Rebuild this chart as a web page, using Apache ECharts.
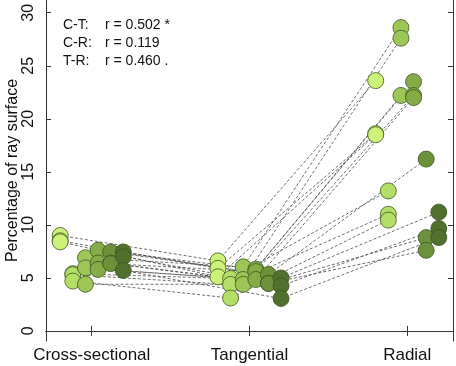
<!DOCTYPE html>
<html>
<head>
<meta charset="utf-8">
<script src="https://cdn.jsdelivr.net/npm/echarts@6/dist/echarts.min.js"></script>
<style>
  html, body { margin: 0; padding: 0; background: #fff; }
  #chart { width: 456px; height: 366px; }
</style>
</head>
<body>
<div id="chart"></div>
<script>
// categories on the x axis (positions 1, 2, 3)
const categories = ['Cross-sectional', 'Tangential', 'Radial'];
const yTicks = [0, 5, 10, 15, 20, 25, 30];

// six jitter columns, each with its own shade of green
const groupOffsets = [-0.2, -0.12, -0.04, 0.04, 0.12, 0.2];
const groupColors = ['#cdf27a', '#b4df66', '#9cc757', '#84ad48', '#6b913b', '#50702d'];

// one entry per sample: column, cross-sectional, tangential, radial
const sampleGroup = [0, 0, 0, 1, 1, 1, 2, 2, 2, 3, 3, 3, 4, 4, 4, 5, 5, 5];
const crossVals   = [9.0, 8.5, 8.4, 5.4, 5.3, 4.7, 6.9, 5.95, 4.4, 7.6, 6.4, 5.8, 7.45, 6.4, 6.35, 7.45, 7.0, 5.7];
const tangVals    = [6.6, 5.9, 5.1, 4.94, 4.38, 3.1, 6.04, 4.85, 4.4, 5.82, 5.6, 4.85, 5.32, 4.5, 4.47, 5.0, 4.25, 3.06];
const radVals     = [23.6, 18.6, 18.5, 13.2, 11.0, 10.45, 28.6, 27.6, 22.2, 23.5, 22.2, 22.0, 16.2, 8.8, 7.6, 11.2, 9.66, 8.8];

const notes = [
  ['C-T:', 'r = 0.502 *'],
  ['C-R:', 'r = 0.119'],
  ['T-R:', 'r = 0.460 .']
];

const FONT = '"Liberation Sans", Arial, sans-serif';
const chart = echarts.init(document.getElementById('chart'));

const series = [];
sampleGroup.forEach((g, i) => {
  const off = groupOffsets[g];
  series.push({
    type: 'line',
    silent: true,
    symbol: 'none',
    z: 1,
    lineStyle: { color: '#4a4a4a', width: 0.8, type: [3, 2] },
    data: [[1 + off, crossVals[i]], [2 + off, tangVals[i]], [3 + off, radVals[i]]]
  });
});
groupOffsets.forEach((off, g) => {
  const pts = [];
  sampleGroup.forEach((sg, i) => {
    if (sg !== g) return;
    pts.push([1 + off, crossVals[i]], [2 + off, tangVals[i]], [3 + off, radVals[i]]);
  });
  series.push({
    type: 'scatter',
    z: 3,
    symbolSize: 16,
    itemStyle: { color: groupColors[g], borderColor: '#3d5422', borderWidth: 0.8, opacity: 1 },
    data: pts
  });
});

const axisLine = { show: true, lineStyle: { color: '#333', width: 1 } };
const tick = { show: true, inside: true, length: 5, lineStyle: { color: '#333' } };

const graphics = [];
notes.forEach((n, k) => {
  graphics.push({ type: 'text', left: 63, top: 18 + k * 18, style: { text: n[0], font: '14px ' + FONT, fill: '#111' } });
  graphics.push({ type: 'text', left: 105, top: 18 + k * 18, style: { text: n[1], font: '14px ' + FONT, fill: '#111' } });
});

chart.setOption({
  animation: false,
  grid: { left: 46, right: 3, top: 0, bottom: 25, outerBoundsMode: 'none' },
  xAxis: [
    {
      type: 'value', min: 0.71, max: 3.29, position: 'bottom',
      axisLine: axisLine,
      axisTick: Object.assign({ customValues: [1, 2, 3] }, tick),
      splitLine: { show: false },
      axisLabel: {
        customValues: [1, 2, 3], margin: 6,
        fontFamily: FONT, fontSize: 17, color: '#111',
        formatter: v => categories[Math.round(v) - 1]
      }
    },
    {
      type: 'value', min: 0.71, max: 3.29, position: 'top',
      axisLine: axisLine,
      axisTick: Object.assign({ customValues: [1, 2, 3] }, tick),
      splitLine: { show: false },
      axisLabel: { show: false }
    }
  ],
  yAxis: [
    {
      type: 'value', min: -0.95, max: 31.2, position: 'left',
      name: 'Percentage of ray surface', nameLocation: 'middle', nameGap: 25,
      nameMoveOverlap: false,
      nameTextStyle: { fontFamily: FONT, fontSize: 16, color: '#111' },
      axisLine: axisLine,
      axisTick: Object.assign({ customValues: yTicks }, tick),
      splitLine: { show: false },
      axisLabel: { customValues: yTicks, rotate: 90, margin: 9, fontFamily: FONT, fontSize: 16, color: '#111' }
    },
    {
      type: 'value', min: -0.95, max: 31.2, position: 'right',
      axisLine: axisLine,
      axisTick: Object.assign({ customValues: yTicks }, tick),
      splitLine: { show: false },
      axisLabel: { show: false }
    }
  ],
  graphic: graphics,
  series: series
});
</script>
</body>
</html>
